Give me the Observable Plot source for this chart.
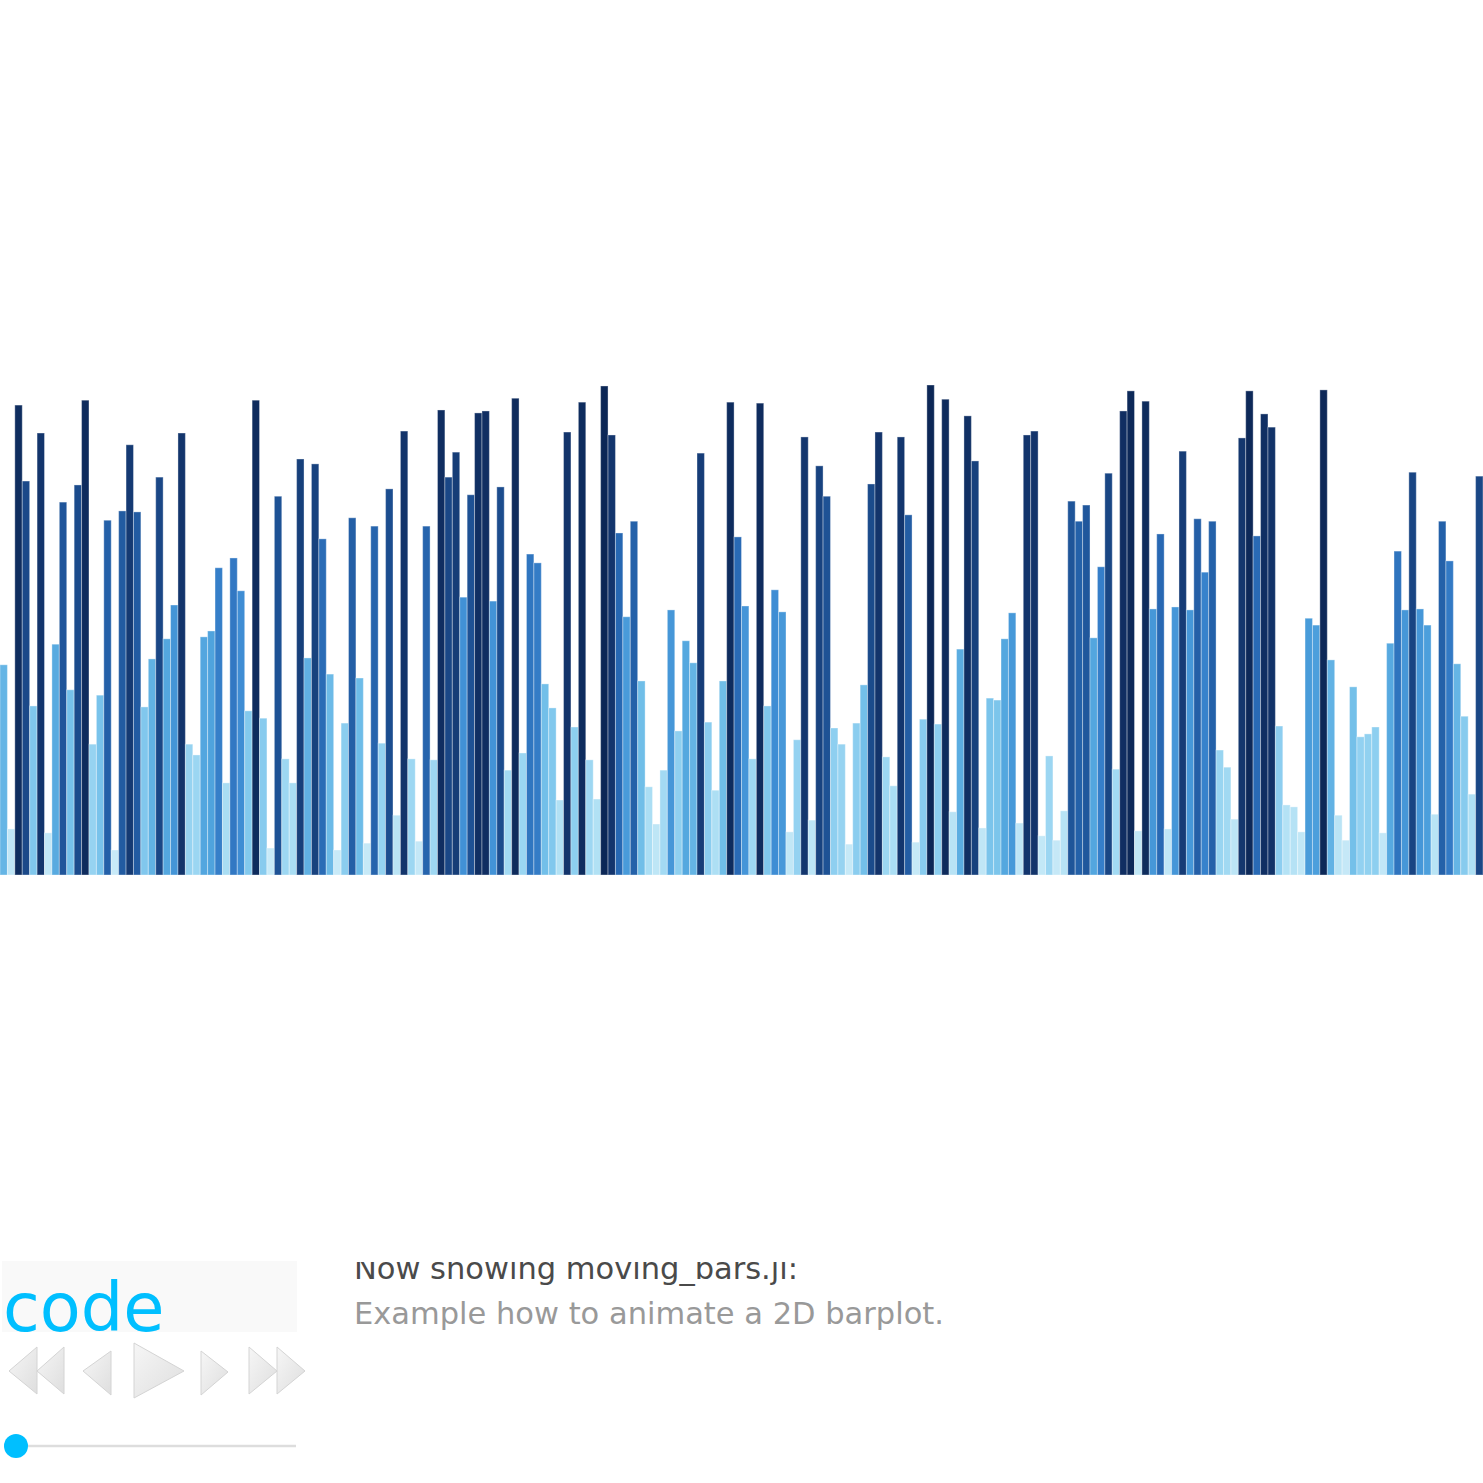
<!DOCTYPE html>
<html>
<head>
<meta charset="utf-8">
<script src="https://cdn.jsdelivr.net/npm/d3@7"></script>
<script src="https://cdn.jsdelivr.net/npm/@observablehq/plot@0.6"></script>
<style>
  html, body { margin: 0; padding: 0; background: #ffffff; }
  #wrap { position: relative; width: 1483px; height: 1483px; overflow: hidden; font-family: "DejaVu Sans", sans-serif; }
  #chart { position: absolute; left: 0; top: 0; }
  #ui { position: absolute; left: 0; top: 0; }
</style>
</head>
<body>
<div id="wrap">
  <div id="chart"></div>
  <svg id="ui" width="1483" height="1483"></svg>
</div>
<script>
// ---- data ----
const values = [
  0.429, 0.094, 0.959, 0.804, 0.345, 0.902, 0.086, 0.471, 0.761, 0.378,
  0.796, 0.969, 0.267, 0.367, 0.724, 0.051, 0.743, 0.878, 0.741, 0.343,
  0.441, 0.812, 0.482, 0.551, 0.902, 0.267, 0.245, 0.486, 0.498, 0.627,
  0.188, 0.647, 0.580, 0.335, 0.969, 0.320, 0.055, 0.773, 0.237, 0.188,
  0.849, 0.443, 0.839, 0.686, 0.410, 0.051, 0.310, 0.729, 0.402, 0.065,
  0.712, 0.269, 0.788, 0.122, 0.906, 0.237, 0.069, 0.712, 0.235, 0.949,
  0.812, 0.863, 0.567, 0.776, 0.943, 0.947, 0.559, 0.792, 0.214, 0.973,
  0.249, 0.655, 0.637, 0.390, 0.341, 0.153, 0.904, 0.302, 0.965, 0.235,
  0.155, 0.998, 0.898, 0.698, 0.527, 0.722, 0.396, 0.180, 0.104, 0.214,
  0.541, 0.294, 0.478, 0.433, 0.861, 0.312, 0.173, 0.396, 0.965, 0.690,
  0.549, 0.237, 0.963, 0.345, 0.582, 0.537, 0.088, 0.276, 0.894, 0.112,
  0.835, 0.773, 0.300, 0.267, 0.063, 0.310, 0.388, 0.798, 0.904, 0.241,
  0.182, 0.894, 0.735, 0.067, 0.318, 1.000, 0.308, 0.971, 0.129, 0.461,
  0.937, 0.845, 0.096, 0.361, 0.357, 0.482, 0.535, 0.106, 0.898, 0.906,
  0.080, 0.243, 0.071, 0.131, 0.763, 0.722, 0.755, 0.484, 0.629, 0.820,
  0.216, 0.947, 0.988, 0.090, 0.967, 0.543, 0.696, 0.094, 0.547, 0.865,
  0.541, 0.727, 0.618, 0.722, 0.255, 0.220, 0.114, 0.892, 0.988, 0.692,
  0.941, 0.914, 0.304, 0.143, 0.139, 0.088, 0.524, 0.510, 0.990, 0.439,
  0.122, 0.071, 0.384, 0.282, 0.288, 0.302, 0.086, 0.473, 0.661, 0.541,
  0.822, 0.543, 0.510, 0.124, 0.722, 0.641, 0.431, 0.324, 0.165, 0.814
];
const indices = values.map((_, i) => i + 1);
const colorStops = ["#d2eefa", "#bfe6f6", "#a6dcf3", "#8ecff0", "#6fbde8", "#4ea2dd", "#3b88d2", "#2767b2", "#1b4a8a", "#13356c", "#0c2756"];
const titleText = "Now showing moving_bars.jl:";
const subtitleText = "Example how to animate a 2D barplot.";
const codeLabel = "code";

const table = indices.map((x, i) => ({x, v: values[i]}));

const chart = Plot.plot({
  width: 1483,
  height: 1240,
  marginTop: 385,
  marginBottom: 365,
  marginLeft: 0,
  marginRight: 0,
  x: {type: "band", domain: indices, padding: 0, axis: null},
  y: {domain: [0, 1], axis: null, nice: false},
  color: {type: "linear", domain: [0, 1], interpolate: d3.piecewise(d3.interpolateRgb, colorStops)},
  marks: [
    Plot.barY(table, {x: "x", y: "v", fill: "v", stroke: "#ffffff", strokeOpacity: 0.35, strokeWidth: 1})
  ]
});
document.getElementById("chart").appendChild(chart);

// ---- bottom controls ----
const ui = d3.select("#ui");
const defs = ui.append("defs");
const g = defs.append("linearGradient").attr("id", "btn").attr("x1", 0).attr("y1", 0).attr("x2", 1).attr("y2", 1);
g.append("stop").attr("offset", "0%").attr("stop-color", "#f6f6f6");
g.append("stop").attr("offset", "100%").attr("stop-color", "#dedede");
const clip = defs.append("clipPath").attr("id", "tclip");
clip.append("rect").attr("x", 0).attr("y", 1262).attr("width", 1483).attr("height", 221);

ui.append("rect").attr("x", 2).attr("y", 1261).attr("width", 295).attr("height", 71).attr("fill", "#f9f9f9");
ui.append("text").attr("x", 3).attr("y", 1331).attr("font-size", 67).attr("fill", "#00bfff")
  .attr("font-family", "DejaVu Sans").text(codeLabel);

const tri = [
  [[9,1371],[37,1347],[37,1394]],
  [[37,1371],[64,1347],[64,1394]],
  [[83,1371],[111,1351],[111,1395]],
  [[134,1343],[184,1371],[134,1398]],
  [[201,1351],[228,1372],[201,1395]],
  [[249,1347],[277,1371],[249,1394]],
  [[277,1347],[305,1371],[277,1394]]
];
ui.selectAll("path.btn").data(tri).join("path").attr("class", "btn")
  .attr("d", d => "M" + d.map(p => p.join(",")).join("L") + "Z")
  .attr("fill", "url(#btn)").attr("stroke", "#d4d4d4").attr("stroke-width", 1);

ui.append("line").attr("x1", 16).attr("x2", 296).attr("y1", 1446).attr("y2", 1446)
  .attr("stroke", "#dddddd").attr("stroke-width", 2.5);
ui.append("circle").attr("cx", 16).attr("cy", 1446).attr("r", 12).attr("fill", "#00bfff");

ui.append("text").attr("x", 354).attr("y", 1279).attr("font-size", 30.5).attr("fill", "#4a4a4a")
  .attr("font-family", "DejaVu Sans").attr("clip-path", "url(#tclip)").text(titleText);
ui.append("text").attr("x", 354).attr("y", 1324).attr("font-size", 30.5).attr("fill", "#999999")
  .attr("font-family", "DejaVu Sans").text(subtitleText);
</script>
</body>
</html>
